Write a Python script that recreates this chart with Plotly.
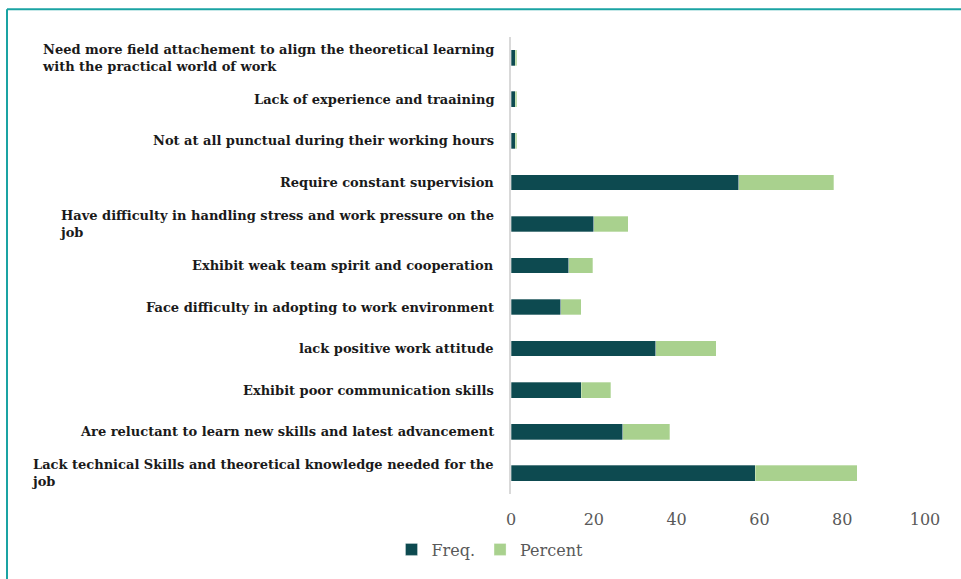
import plotly.graph_objects as go

# Employer-reported gaps among graduates (bottom-to-top order)
categories = [
    "Lack technical Skills and theoretical knowledge needed for the<br>job",
    "Are reluctant to learn new skills and latest advancement",
    "Exhibit poor communication skills",
    "lack positive work attitude",
    "Face difficulty in adopting to work environment",
    "Exhibit weak team spirit and cooperation",
    "Have difficulty in handling stress and work pressure on the<br>job",
    "Require constant supervision",
    "Not at all punctual during their working hours",
    "Lack of experience and traaining",
    "Need more field attachement to align the theoretical learning<br>with the practical world of work",
]
freq = [59, 27, 17, 35, 12, 14, 20, 55, 1, 1, 1]
percent = [24.6, 11.3, 7.1, 14.6, 5.0, 5.8, 8.3, 22.9, 0.4, 0.4, 0.4]
x_ticks = [0, 20, 40, 60, 80, 100]

W, H = 961, 579
L, R, T, B = 511, 36, 37, 81
PW, PH = W - L - R, H - T - B

SERIF = "DejaVu Serif"
DARK = "#0d4a50"
LIGHT = "#a9d18e"
FRAME = "#1aa3a3"

fig = go.Figure()
fig.add_trace(go.Bar(
    y=categories, x=freq, name="Freq.", orientation="h",
    marker=dict(color=DARK, line=dict(color="rgba(255,255,255,0.6)", width=0.5)),
))
fig.add_trace(go.Bar(
    y=categories, x=percent, name="Percent", orientation="h",
    marker=dict(color=LIGHT, line=dict(color="rgba(255,255,255,0.6)", width=0.5)),
))

# Category labels: block right-aligned to the axis, lines left-aligned
for c in categories:
    fig.add_annotation(
        x=(496 - L) / PW, xref="paper", y=c, yref="y",
        text="<b>" + c.replace("<br>", "</b><br><b>") + "</b>",
        showarrow=False, xanchor="right", yanchor="middle", align="left",
        font=dict(family=SERIF, size=13, color="#1a1a1a"),
    )

# Teal frame around the chart
def px_x(p):
    return (p - L) / PW

def px_y(p):
    return (T + PH - p) / PH

fig.add_shape(type="line", xref="paper", yref="paper",
              x0=px_x(7), x1=px_x(W + 5), y0=px_y(9), y1=px_y(9),
              line=dict(color=FRAME, width=2))
fig.add_shape(type="line", xref="paper", yref="paper",
              x0=px_x(7), x1=px_x(7), y0=px_y(9), y1=px_y(H + 5),
              line=dict(color=FRAME, width=2))

fig.update_layout(
    width=W, height=H,
    margin=dict(l=L, r=R, t=T, b=B),
    barmode="stack", bargap=0.62,
    plot_bgcolor="white", paper_bgcolor="white",
    font=dict(family=SERIF, color="#595959"),
    showlegend=True,
    legend=dict(orientation="h", x=px_x(490), xanchor="center",
                y=px_y(554), yanchor="middle", traceorder="normal",
                font=dict(family=SERIF, size=16, color="#595959"),
                itemwidth=30, tracegroupgap=0),
    xaxis=dict(range=[0, 100], tickvals=x_ticks, showgrid=False, zeroline=False,
               showline=False, tickfont=dict(family=SERIF, size=16, color="#595959"),
               ticklabelstandoff=14),
    yaxis=dict(showticklabels=False, showgrid=False, zeroline=False,
               showline=True, linecolor="#d9d9d9", linewidth=1.5, ticks=""),
)

fig.write_html("out.html")
